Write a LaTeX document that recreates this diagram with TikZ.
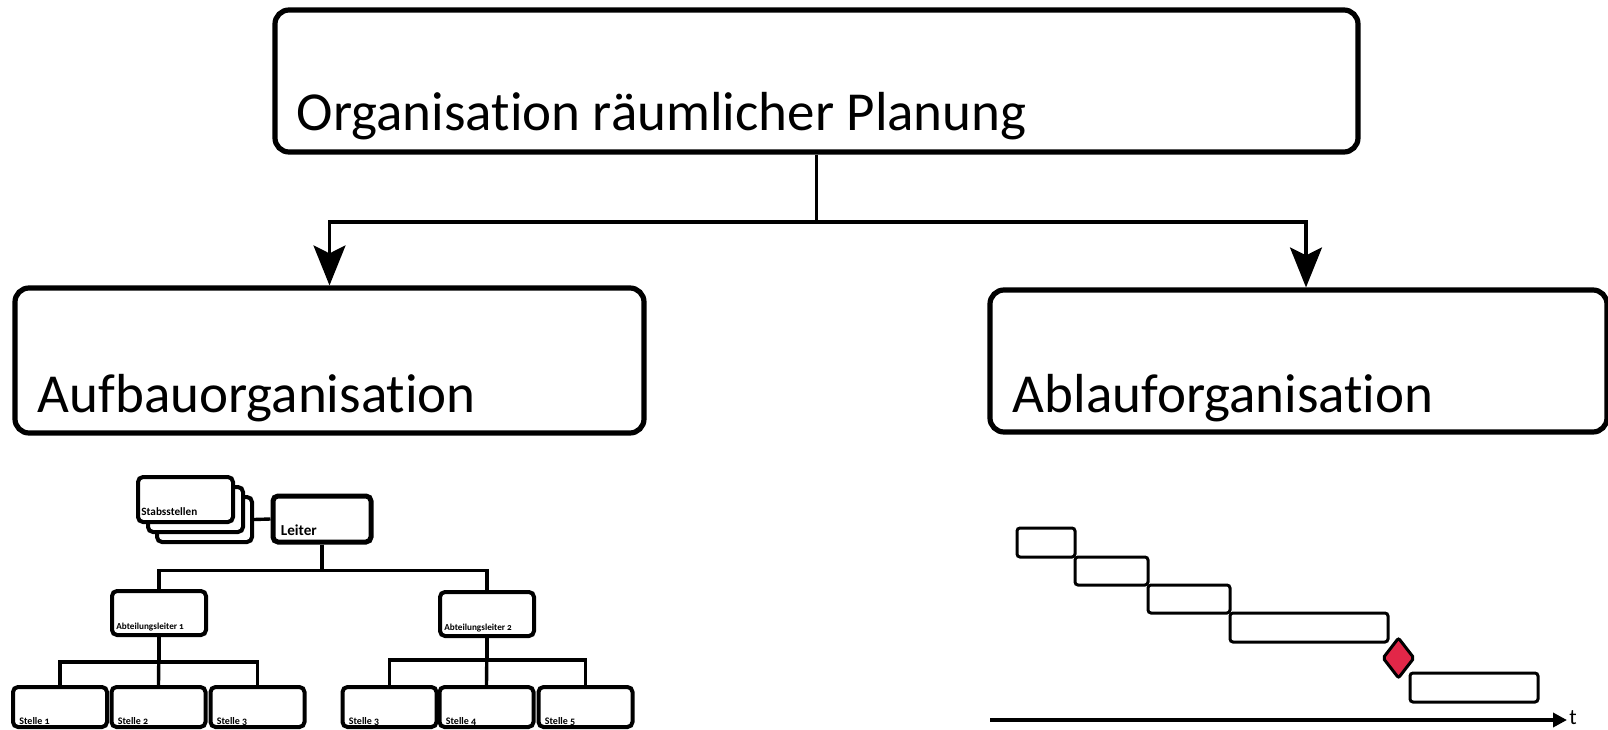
\documentclass[tikz,border=0pt]{standalone}
\usepackage{fontspec}
\setmainfont{Carlito}[Ligatures=NoCommon]
\usepackage{xcolor}
\usepackage{tikz}
\usetikzlibrary{shapes.geometric, arrows.meta}

\begin{document}
\begin{tikzpicture}[x=0.5pt, y=-0.5pt]
	\definecolor{msred}{RGB}{226,39,72}
	\tikzstyle{bigbox} = [rectangle, rounded corners=7pt, line width=2.6pt, draw=black, inner sep=0pt]
	\tikzstyle{bigtext} = [font=\fontsize{27.5}{32}\selectfont, anchor=base west, inner sep=0pt]
	\tikzstyle{orgbox} = [rectangle, rounded corners=2.5pt, line width=2pt, draw=black, fill=white, inner sep=0pt]
	\tikzstyle{orgtext} = [font=\bfseries\fontsize{4.6}{6}\selectfont\addfontfeatures{Numbers=OldStyle}, anchor=base west, inner sep=0pt]
	\tikzstyle{orgline} = [line width=1.7pt]
	\tikzstyle{bar} = [rectangle, rounded corners=1.5pt, line width=1.5pt, draw=black, inner sep=0pt]

	\useasboundingbox (0,0) rectangle (1608,729);

	% obere Ebene
	\node (org) [bigbox, minimum width=541.5pt, minimum height=71pt, label={[bigtext, xshift=12pt, yshift=12pt]south west:Organisation räumlicher Planung}] at (816.5,81) {};
	\node (aufbau) [bigbox, minimum width=314.5pt, minimum height=72.5pt, label={[bigtext, xshift=12.5pt, yshift=11.5pt]south west:Aufbauorganisation}] at (329.5,360.5) {};
	\node (ablauf) [bigbox, minimum width=308.5pt, minimum height=71pt, label={[bigtext, xshift=12.5pt, yshift=11pt]south west:Ablauforganisation}] at (1298.5,361) {};

	\coordinate (split) at (816.5,222);
	\draw [line width=1.6pt] (org.south) -- (split);
	\draw [line width=1.6pt, -{Stealth[length=20pt, width=16pt, inset=4pt]}] (split) -| (aufbau.north);
	\draw [line width=1.6pt, -{Stealth[length=20pt, width=16pt, inset=4pt]}] (split) -| ([xshift=3.75pt]ablauf.north);

	% Aufbauorganisation: Organigramm
	\node (stab3) [orgbox, minimum width=47.5pt, minimum height=22.5pt] at (204.5,519.5) {};
	\node (stab2) [orgbox, minimum width=47.5pt, minimum height=22.5pt] at (195.5,509.5) {};
	\node (stab1) [orgbox, minimum width=47.5pt, minimum height=22.5pt, label={[orgtext, font=\bfseries\fontsize{5.6}{6}\selectfont, xshift=2.5pt, yshift=4.5pt]south west:Stabsstellen}] at (185.5,499.5) {};
	\node (leiter) [orgbox, line width=2.5pt, minimum width=49pt, minimum height=23pt, label={[orgtext, font=\bfseries\fontsize{7.6}{8}\selectfont, xshift=5pt, yshift=4.5pt]south west:Leiter}] at (322,519) {};

	\node (abt1) [orgbox, minimum width=47pt, minimum height=22pt, label={[orgtext, xshift=3pt, yshift=4pt]south west:Abteilungsleiter 1}] at (159,613) {};
	\node (abt2) [orgbox, minimum width=47pt, minimum height=22pt, label={[orgtext, xshift=3pt, yshift=4pt]south west:Abteilungsleiter 2}] at (487,614) {};

	\node (st1) [orgbox, minimum width=47pt, minimum height=20pt, label={[orgtext, font=\bfseries\fontsize{5}{6}\selectfont\addfontfeatures{Numbers=OldStyle}, xshift=4pt, yshift=2.5pt]south west:Stelle 1}] at (60,707) {};
	\node (st2) [orgbox, minimum width=47pt, minimum height=20pt, label={[orgtext, font=\bfseries\fontsize{5}{6}\selectfont\addfontfeatures{Numbers=OldStyle}, xshift=4pt, yshift=2.5pt]south west:Stelle 2}] at (158.5,707) {};
	\node (st3) [orgbox, minimum width=47pt, minimum height=20pt, label={[orgtext, font=\bfseries\fontsize{5}{6}\selectfont\addfontfeatures{Numbers=OldStyle}, xshift=4pt, yshift=2.5pt]south west:Stelle 3}] at (257.5,707) {};
	\node (st4) [orgbox, minimum width=47pt, minimum height=20pt, label={[orgtext, font=\bfseries\fontsize{5}{6}\selectfont\addfontfeatures{Numbers=OldStyle}, xshift=4pt, yshift=2.5pt]south west:Stelle 3}] at (389.5,707) {};
	\node (st5) [orgbox, minimum width=47pt, minimum height=20pt, label={[orgtext, font=\bfseries\fontsize{5}{6}\selectfont\addfontfeatures{Numbers=OldStyle}, xshift=4pt, yshift=2.5pt]south west:Stelle 4}] at (486.5,707) {};
	\node (st6) [orgbox, minimum width=47pt, minimum height=20pt, label={[orgtext, font=\bfseries\fontsize{5}{6}\selectfont\addfontfeatures{Numbers=OldStyle}, xshift=4pt, yshift=2.5pt]south west:Stelle 5}] at (585.5,707) {};

	\draw [orgline] (stab3.east) -- (leiter.west);
	\draw [orgline] (leiter.south) -- ++(0,26) -| (abt1.north);
	\draw [orgline] (leiter.south) -- ++(0,26) -| (abt2.north);
	\draw [orgline] (abt1.south) -- ++(0,25) -| (st1.north);
	\draw [orgline] (abt1.south) -- (st2.north);
	\draw [orgline] (abt1.south) -- ++(0,25) -| (st3.north);
	\draw [orgline] (abt2.south) -- ++(0,22) -| (st4.north);
	\draw [orgline] (abt2.south) -- (st5.north);
	\draw [orgline] (abt2.south) -- ++(0,22) -| (st6.north);

	% Ablauforganisation: Balkenplan
	\node (bar1) [bar, minimum width=29pt, minimum height=14.5pt] at (1046,542.5) {};
	\node (bar2) [bar, minimum width=36.5pt, minimum height=14pt] at (1111.5,571) {};
	\node (bar3) [bar, minimum width=41pt, minimum height=14pt] at (1189,599) {};
	\node (bar4) [bar, minimum width=79pt, minimum height=14.5pt] at (1309,627.5) {};
	\node (milestone) [diamond, draw=black, line width=1.5pt, fill=msred, rounded corners=1pt, inner sep=0pt, minimum width=16pt, minimum height=20.5pt] at (1398.5,658) {};
	\node (bar5) [bar, minimum width=64pt, minimum height=14.5pt] at (1474,687.5) {};

	\coordinate (tstart) at (990,720);
	\node (tlabel) [anchor=west, inner sep=1pt, font=\fontsize{11}{12}\selectfont] at (1567,718) {t};
	\draw [line width=2pt, -{Triangle[length=7pt, width=7pt]}] (tstart) -- (tstart -| tlabel.west);
\end{tikzpicture}
\end{document}
